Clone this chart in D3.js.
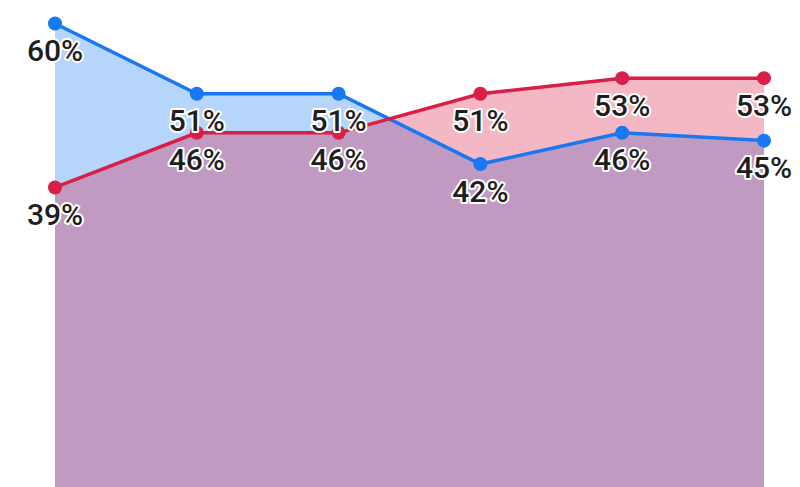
<!DOCTYPE html>
<html>
<head>
<meta charset="utf-8">
<script src="https://cdn.jsdelivr.net/npm/d3@7"></script>
<style>
html,body{margin:0;padding:0;background:#fff;}
svg{display:block;}
</style>
</head>
<body>
<svg id="chart" width="800" height="487"></svg>
<script>
const categories = ["1", "2", "3", "4", "5", "6"];
const blueValues = [60, 51, 51, 42, 46, 45];
const redValues = [39, 46, 46, 51, 53, 53];
const blueLabels = ["60%", "51%", "51%", "42%", "46%", "45%"];
const redLabels = ["39%", "46%", "46%", "51%", "53%", "53%"];

const svg = d3.select("#chart");
const x = d3.scalePoint().domain(categories).range([55, 764]);
const y = d3.scaleLinear().domain([0, 60]).range([492, 23.5]);

const series = [
  {name: "blue", values: blueValues, labels: blueLabels, line: "#1877f2", fill: "#b5d5fb", fillOpacity: 1},
  {name: "red", values: redValues, labels: redLabels, line: "#d91e48", fill: "rgb(220,20,60)", fillOpacity: 0.3}
];

const area = d3.area()
  .x((d, i) => x(categories[i]))
  .y0(y(0))
  .y1(d => y(d));
const line = d3.line()
  .x((d, i) => x(categories[i]))
  .y(d => y(d));

series.forEach(s => {
  svg.append("path")
    .attr("d", area(s.values))
    .attr("fill", s.fill)
    .attr("fill-opacity", s.fillOpacity);
});

series.forEach(s => {
  svg.append("path")
    .attr("d", line(s.values))
    .attr("fill", "none")
    .attr("stroke", s.line)
    .attr("stroke-width", 3.5);
});

series.forEach(s => {
  svg.selectAll(null).data(s.values).enter().append("circle")
    .attr("cx", (d, i) => x(categories[i]))
    .attr("cy", d => y(d))
    .attr("r", 7)
    .attr("fill", s.line);
});

series.forEach(s => {
  svg.selectAll(null).data(s.values).enter().append("text")
    .attr("x", (d, i) => x(categories[i]))
    .attr("y", d => y(d) + 37.5)
    .attr("text-anchor", "middle")
    .attr("font-family", "Roboto, 'Noto Sans', sans-serif")
    .attr("font-weight", 500)
    .attr("font-size", 30)
    .attr("fill", "#1e1e1e")
    .attr("stroke", "#fff")
    .attr("stroke-width", 4)
    .attr("stroke-linejoin", "round")
    .attr("paint-order", "stroke")
    .text((d, i) => s.labels[i]);
});
</script>
</body>
</html>
